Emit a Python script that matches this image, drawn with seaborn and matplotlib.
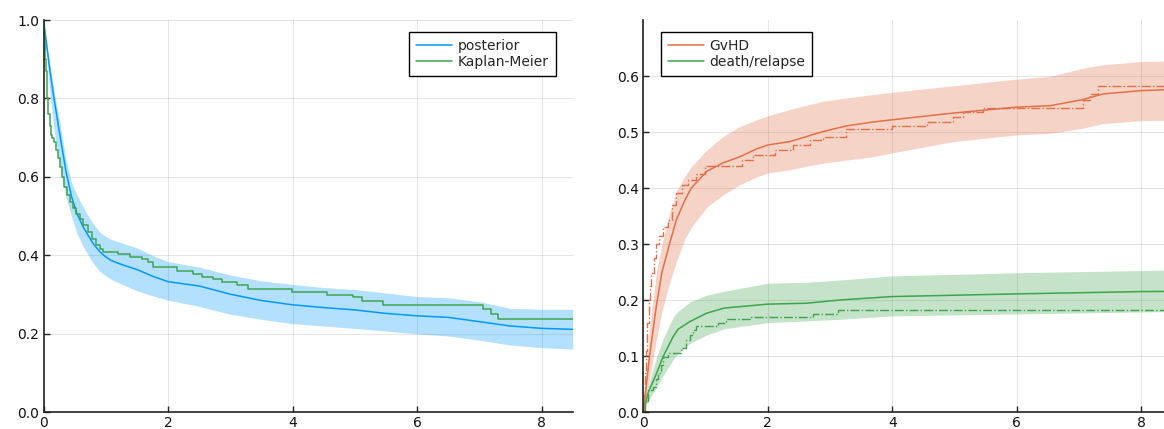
import numpy as np
import pandas as pd
import matplotlib
matplotlib.use("Agg")
import matplotlib.pyplot as plt
import seaborn as sns

# ---------------- data (left panel: survival) ----------------
post_t = [0, 0.1, 0.169, 0.25, 0.36, 0.45, 0.54, 0.63, 0.72, 0.8, 0.9, 1.0, 1.1, 1.25, 1.5, 1.75,
          2.0, 2.5, 3.0, 3.5, 4.0, 4.5, 5.0, 5.5, 6.0, 6.5, 7.0, 7.5, 8.0, 8.5]
post_mean = [1.0, 0.875, 0.80, 0.72, 0.615, 0.55, 0.505, 0.475, 0.45, 0.43, 0.41, 0.396, 0.386,
             0.377, 0.364, 0.347, 0.333, 0.322, 0.301, 0.285, 0.274, 0.267, 0.261, 0.252, 0.246,
             0.242, 0.231, 0.220, 0.214, 0.2115]
post_upper = [1.0, 0.89, 0.82, 0.75, 0.645, 0.585, 0.553, 0.525, 0.50, 0.48, 0.46, 0.448, 0.44,
              0.432, 0.419, 0.40, 0.384, 0.37, 0.35, 0.335, 0.326, 0.318, 0.313, 0.304, 0.295,
              0.292, 0.282, 0.265, 0.2625, 0.2625]
post_lower = [1.0, 0.82, 0.72, 0.64, 0.55, 0.50, 0.455, 0.425, 0.40, 0.38, 0.36, 0.348, 0.338,
              0.327, 0.31, 0.297, 0.286, 0.27, 0.25, 0.237, 0.226, 0.22, 0.214, 0.207, 0.20,
              0.1945, 0.184, 0.1715, 0.165, 0.161]

km_t = [0, 0.01, 0.02, 0.03, 0.04, 0.05, 0.06, 0.08, 0.10, 0.115, 0.14, 0.17, 0.20, 0.233, 0.26,
        0.29, 0.33, 0.37, 0.42, 0.47, 0.52, 0.58, 0.64, 0.71, 0.78, 0.85, 0.90, 0.96, 1.20, 1.39,
        1.58, 1.68, 1.76, 2.14, 2.40, 2.54, 2.73, 2.86, 3.10, 3.29, 3.99, 4.55, 4.97, 5.12, 5.45,
        7.06, 7.18, 7.30, 8.5]
km_s = [1.0, 0.97, 0.94, 0.90, 0.87, 0.83, 0.80, 0.76, 0.73, 0.707, 0.70, 0.69, 0.668, 0.647,
        0.625, 0.60, 0.575, 0.554, 0.535, 0.52, 0.505, 0.494, 0.477, 0.46, 0.443, 0.4265, 0.415,
        0.408, 0.4035, 0.397, 0.39, 0.384, 0.371, 0.36, 0.3525, 0.3457, 0.339, 0.333, 0.3245,
        0.3135, 0.3075, 0.299, 0.293, 0.2845, 0.2735, 0.2625, 0.25, 0.237, 0.237]

# ---------------- data (right panel: cumulative incidence) ----------------
gv_t = [0, 0.1, 0.21, 0.3, 0.42, 0.536, 0.67, 0.77, 1.02, 1.28, 1.55, 1.82, 2.0, 2.35, 2.62,
        2.89, 3.26, 3.69, 4.0, 4.98, 6.0, 6.53, 7.06, 7.38, 8.0, 8.5]
gv_mean = [0, 0.10, 0.19, 0.25, 0.30, 0.345, 0.379, 0.40, 0.43, 0.445, 0.456, 0.47, 0.477, 0.483,
           0.492, 0.501, 0.511, 0.518, 0.522, 0.534, 0.5446, 0.547, 0.558, 0.568, 0.574, 0.576]
gv_upper = [0, 0.15, 0.25, 0.30, 0.355, 0.395, 0.422, 0.438, 0.468, 0.492, 0.51, 0.522, 0.529,
            0.54, 0.548, 0.555, 0.561, 0.567, 0.571, 0.5827, 0.5946, 0.5993, 0.614, 0.62, 0.626,
            0.627]
gv_lower = [0, 0.06, 0.13, 0.18, 0.23, 0.27, 0.31, 0.33, 0.366, 0.388, 0.406, 0.42, 0.427, 0.4327,
            0.439, 0.4446, 0.45, 0.456, 0.463, 0.483, 0.495, 0.4976, 0.507, 0.515, 0.5207, 0.521]

dr_t = [0, 0.075, 0.215, 0.316, 0.48, 0.557, 0.75, 1.02, 1.3, 2.0, 2.62, 3.16, 4.0, 6.0, 8.0, 8.5]
dr_mean = [0, 0.034, 0.07, 0.099, 0.135, 0.148, 0.162, 0.177, 0.186, 0.193, 0.1946, 0.2005,
           0.2065, 0.2113, 0.2154, 0.2157]
dr_upper = [0, 0.045, 0.10, 0.13, 0.17, 0.18, 0.197, 0.209, 0.216, 0.2303, 0.232, 0.236, 0.2434,
            0.249, 0.253, 0.254]
dr_lower = [0, 0.02, 0.045, 0.065, 0.094, 0.105, 0.123, 0.138, 0.149, 0.16, 0.163, 0.166, 0.172,
            0.1755, 0.179, 0.1797]

gv_km_t = [0, 0.01, 0.02, 0.04, 0.06, 0.086, 0.11, 0.128, 0.17, 0.21, 0.26, 0.32, 0.40, 0.46,
           0.53, 0.62, 0.72, 0.85, 0.985, 1.58, 1.77, 2.11, 2.40, 2.67, 2.89, 3.26, 3.99, 4.55,
           4.97, 5.14, 5.46, 7.06, 7.18, 7.30, 8.5]
gv_km = [0, 0.03, 0.07, 0.11, 0.16, 0.20, 0.225, 0.248, 0.275, 0.30, 0.315, 0.33, 0.343, 0.37,
         0.391, 0.405, 0.415, 0.425, 0.4386, 0.4505, 0.4595, 0.468, 0.477, 0.4863, 0.492, 0.5053,
         0.511, 0.518, 0.5267, 0.535, 0.5428, 0.5577, 0.5684, 0.5827, 0.5827]

dr_km_t = [0, 0.03, 0.075, 0.15, 0.2, 0.236, 0.28, 0.316, 0.4, 0.61, 0.69, 0.75, 0.8, 0.85, 1.2,
           1.33, 1.73, 2.72, 3.12, 8.5]
dr_km = [0, 0.02, 0.04, 0.045, 0.06, 0.07, 0.085, 0.099, 0.105, 0.114, 0.129, 0.138, 0.147,
         0.154, 0.16, 0.166, 0.1708, 0.1755, 0.1827, 0.1827]

left_labels = ["posterior", "Kaplan-Meier"]
right_labels = ["GvHD", "death/relapse"]

BLUE = "#009AFA"
ORANGE = "#E36F47"
GREEN = "#3EA44E"

sns.set_theme(style="white")
plt.rcParams["font.family"] = ["DejaVu Sans"]
plt.rcParams["font.size"] = 10

W, H = 1164, 429
fig = plt.figure(figsize=(W / 100, H / 100), dpi=100)

def px_axes(x0, y0, x1, y1):
    return fig.add_axes([x0 / W, 1 - y1 / H, (x1 - x0) / W, (y1 - y0) / H])

axL = px_axes(43.5, 20, 572.7, 412.3)
axR = px_axes(643.3, 20, 643.3 + 529.2, 412.3)

def style(ax, ylim, yticks):
    ax.set_xlim(0, 8.5)
    ax.set_ylim(*ylim)
    ax.set_xticks([0, 2, 4, 6, 8])
    ax.set_xticklabels(["0", "2", "4", "6", "8"])
    ax.set_yticks(yticks)
    ax.set_yticklabels([f"{v:.1f}" for v in yticks])
    ax.grid(True, color="#000000", alpha=0.1, linewidth=0.8)
    for s in ["top", "right"]:
        ax.spines[s].set_visible(False)
    for s in ["left", "bottom"]:
        ax.spines[s].set_color("#222222")
        ax.spines[s].set_linewidth(1.2)
    ax.tick_params(axis="both", direction="in", length=4, width=1, color="#222222",
                   labelsize=10, labelcolor="#111111", left=True, bottom=True, pad=3)
    ax.set_xlabel("")
    ax.set_ylabel("")

# ---------- left panel ----------
axL.fill_between(post_t, post_lower, post_upper, color=BLUE, alpha=0.3, linewidth=0)
sns.lineplot(x=post_t, y=post_mean, ax=axL, color=BLUE, linewidth=1.1, label=left_labels[0],
             estimator=None)
sns.lineplot(x=km_t, y=km_s, ax=axL, color=GREEN, linewidth=1.1, label=left_labels[1],
             estimator=None, drawstyle="steps-post")
style(axL, (0, 1.0), [0.0, 0.2, 0.4, 0.6, 0.8, 1.0])
legL = axL.legend(loc="upper right", bbox_to_anchor=(556 / W, 1 - 32 / H),
                  bbox_transform=fig.transFigure, borderaxespad=0, fancybox=False,
                  framealpha=1, edgecolor="black", fontsize=10, handlelength=2.6,
                  labelspacing=0.15, borderpad=0.5, handletextpad=0.4)
legL.get_frame().set_linewidth(1.0)

# ---------- right panel ----------
axR.fill_between(gv_t, gv_lower, gv_upper, color=ORANGE, alpha=0.3, linewidth=0)
axR.fill_between(dr_t, dr_lower, dr_upper, color=GREEN, alpha=0.3, linewidth=0)
sns.lineplot(x=gv_t, y=gv_mean, ax=axR, color=ORANGE, linewidth=1.1, label=right_labels[0],
             estimator=None)
sns.lineplot(x=dr_t, y=dr_mean, ax=axR, color=GREEN, linewidth=1.1, label=right_labels[1],
             estimator=None)
sns.lineplot(x=gv_km_t, y=gv_km, ax=axR, color=ORANGE, linewidth=1.0, linestyle="-.",
             drawstyle="steps-post", estimator=None, legend=False)
sns.lineplot(x=dr_km_t, y=dr_km, ax=axR, color=GREEN, linewidth=1.0, linestyle="-.",
             drawstyle="steps-post", estimator=None, legend=False)
style(axR, (0, 0.7), [0.0, 0.1, 0.2, 0.3, 0.4, 0.5, 0.6])
handles, labels = axR.get_legend_handles_labels()
legR = axR.legend(handles[:2], labels[:2], loc="upper left", bbox_to_anchor=(661 / W, 1 - 32 / H),
                  bbox_transform=fig.transFigure, borderaxespad=0, fancybox=False,
                  framealpha=1, edgecolor="black", fontsize=10, handlelength=2.6,
                  labelspacing=0.15, borderpad=0.5, handletextpad=0.4)
legR.get_frame().set_linewidth(1.0)

fig.savefig("out.png", dpi=100)
